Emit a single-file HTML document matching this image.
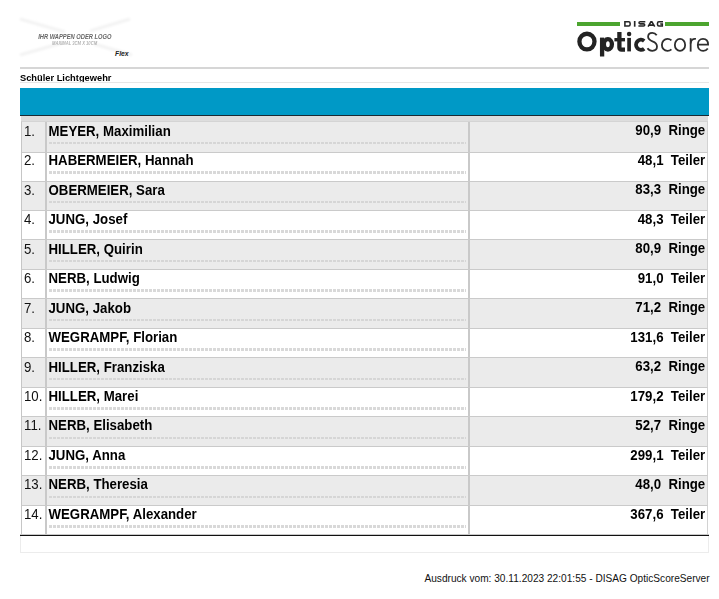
<!DOCTYPE html>
<html><head><meta charset="utf-8"><title>Schüler Lichtgewehr</title>
<style>
html,body{margin:0;padding:0;background:#fff;}
body{width:719px;height:599px;position:relative;overflow:hidden;font-family:"Liberation Sans",sans-serif;color:#000;}
.abs{position:absolute;}
.row{position:absolute;left:21px;width:686.6px;height:29.57px;box-sizing:border-box;border-top:1.8px solid #cacaca;border-left:1.5px solid #c6c6c6;border-right:1px solid #d2d2d2;}
.rk{position:absolute;left:2px;top:1.7px;font-size:13.25px;line-height:15px;color:#111;white-space:nowrap;transform:scaleY(1.04);transform-origin:0 80%;}
.nm{position:absolute;left:26.5px;top:1.7px;font-size:13.25px;line-height:15px;font-weight:bold;white-space:nowrap;transform:scaleY(1.04);transform-origin:0 80%;}
.sc{position:absolute;right:1.4px;top:1.4px;font-size:13.25px;line-height:15px;font-weight:bold;white-space:nowrap;transform:scaleY(1.04);transform-origin:100% 80%;}
.u{margin-left:7.3px}
.dots{position:absolute;left:26.5px;top:19.9px;width:417px;height:2.5px;background:repeating-linear-gradient(90deg,#d2d2d2 0 3px,transparent 3px 4px);opacity:.85}
.v1{position:absolute;left:22.7px;top:0;width:2px;height:100%;background:#c9c9c9;}
.v2{position:absolute;left:446px;top:0;width:2px;height:100%;background:#c9c9c9;}
</style></head><body>
<!-- left logo placeholder -->
<svg class="abs" style="left:10px;top:10px" width="140" height="56" viewBox="0 0 140 56">
<defs><filter id="bl" x="-5%" y="-20%" width="110%" height="140%"><feGaussianBlur stdDeviation="0.8"/></filter>
<filter id="b2"><feGaussianBlur stdDeviation="0.35"/></filter></defs>
<g filter="url(#bl)"><path d="M10 9 L55 22 M120 9 L80 21 M10 45 L52 33 M122 45 L84 34" stroke="#f3f3f3" stroke-width="3.2" fill="none"/></g>
<g filter="url(#b2)">
<text transform="translate(28.2 29.2) scale(0.78 1)" font-family="Liberation Sans" font-style="italic" font-weight="bold" font-size="7.4" fill="#666">IHR WAPPEN ODER LOGO</text>
<text transform="translate(42 34.6) scale(0.9 1)" font-family="Liberation Sans" font-style="italic" font-weight="bold" font-size="4.6" fill="#b4b4b4">MAXIMAL 3CM X 10CM</text>
</g>
<text x="105" y="46" font-family="Liberation Sans" font-style="italic" font-weight="bold" font-size="6.8" fill="#222">Flex</text>
</svg>
<!-- right logo -->
<div class="abs" style="left:577px;top:21.9px;width:43px;height:3.8px;background:#4ca52f"></div>
<div class="abs" style="left:665px;top:21.9px;width:43.9px;height:3.8px;background:#4ca52f"></div>
<svg class="abs" style="left:620px;top:18px" width="48" height="12" viewBox="0 0 48 12" fill="none" stroke="#262626" stroke-width="1.55" stroke-linejoin="miter">
<path d="M4.9 3.8 H8.7 Q10.1 3.8 10.1 5.2 V6.5 Q10.1 7.9 8.7 7.9 H4.9 Z"/>
<path d="M14.7 3.0 V8.7" stroke-width="1.65"/>
<path d="M25.3 3.8 H20.2 Q19.0 3.8 19.0 4.85 Q19.0 5.85 20.2 5.85 H23.5 Q24.7 5.85 24.7 6.9 Q24.7 7.9 23.5 7.9 H18.4"/>
<path d="M28.1 8.7 L30.9 3.8 H31.9 L34.7 8.7 M29.4 7.1 H33.4"/>
<path d="M43.0 3.8 H38.9 Q37.5 3.8 37.5 5.2 V6.5 Q37.5 7.9 38.9 7.9 H42.3 V6.0 H40.2"/>
</svg>
<svg class="abs" style="left:570px;top:26px" width="149" height="34" viewBox="0 0 149 34" fill="none">
<g stroke="#232323" stroke-width="4.3">
<ellipse cx="16.95" cy="15.6" rx="7.55" ry="7.85"/>
<path d="M32.1 11.6 V30.5"/>
<ellipse cx="37.9" cy="18.35" rx="4.0" ry="5.15"/>
<path d="M49.4 6.1 V21.6 Q49.4 23.6 51.6 23.6 H55"/>
<path d="M44.4 13.7 H55" stroke-width="3.4"/>
<path d="M59.1 11.9 V25.4" stroke-width="3.7"/>
<path d="M74.2 14.9 A5.0 5.0 0 1 0 74.2 22.7" stroke-width="3.9"/>
</g>
<circle cx="59.1" cy="8.0" r="2.25" fill="#232323"/>
<g stroke="#2e2e2e" stroke-width="1.8">
<path d="M86.7 9.3 C85.6 7.6 84.1 6.8 82.3 6.8 C79.9 6.8 78.1 8.4 78.1 10.8 C78.1 13.4 80.0 14.4 82.5 15.4 C85.3 16.5 87.0 17.8 87.0 20.6 C87.0 23.3 85.0 24.8 82.3 24.8 C80.1 24.8 78.5 23.9 77.5 22.2"/>
<path d="M101.41 14.44 A5.7 6.0 0 1 0 101.41 23.36"/>
<ellipse cx="110.0" cy="18.9" rx="5.15" ry="6.0"/>
<path d="M120.65 12.2 V25.6"/>
<path d="M120.65 17.4 C120.65 14.0 123.0 12.4 125.9 12.9"/>
<path d="M127.8 18.7 H138.1 C138.1 15.0 136.0 12.9 133.0 12.9 C129.9 12.9 127.8 15.5 127.8 18.9 C127.8 22.4 130.0 24.9 133.2 24.9 C135.3 24.9 136.8 24.0 137.8 22.6"/>
</g>
</svg>

<div class="abs" style="left:20px;top:66.9px;width:689px;height:1.7px;background:#d6d6d6"></div>
<div class="abs" style="left:20px;top:71.2px;width:689px;height:10.8px;overflow:hidden;font-size:9.3px;line-height:12px;font-weight:bold;white-space:nowrap;border-bottom:1px solid #e6e6e6"><span style="display:inline-block;position:relative;top:0.9px;transform:scaleY(1.07);transform-origin:0 78%">Schüler Lichtgewehr</span></div>
<div class="abs" style="left:20px;top:88px;width:689px;height:27px;background:#0099c6"></div>
<div class="abs" style="left:20px;top:114.5px;width:689px;height:1.5px;background:#1a2a33"></div>
<div class="abs" style="left:20.7px;top:116px;width:687.6px;height:5.2px;background:#dddddd"></div>
<div class="row" style="top:121.3px;height:30.3px;background:#ebebeb;border-top-color:#d4d4d4"><div class="rk" style="top:1.5px">1.</div><div class="nm" style="top:1.5px">MEYER, Maximilian</div><div class="dots" style="top:19.7px"></div><div class="sc" style="top:1.2px">90,9<span class="u">Ringe</span></div><div class="v1"></div><div class="v2"></div></div>
<div class="row" style="top:151.5px;height:29.14px;background:#ffffff"><div class="rk" style="top:0.77px">2.</div><div class="nm" style="top:0.77px">HABERMEIER, Hannah</div><div class="dots" style="top:18.97px"></div><div class="sc" style="top:0.47px">48,1<span class="u">Teiler</span></div><div class="v1"></div><div class="v2"></div></div>
<div class="row" style="top:180.54px;height:29.57px;background:#ebebeb"><div class="rk" style="top:1.2px">3.</div><div class="nm" style="top:1.2px">OBERMEIER, Sara</div><div class="dots" style="top:19.4px"></div><div class="sc" style="top:0.9px">83,3<span class="u">Ringe</span></div><div class="v1"></div><div class="v2"></div></div>
<div class="row" style="top:210.01px;height:29.57px;background:#ffffff"><div class="rk" style="top:1.2px">4.</div><div class="nm" style="top:1.2px">JUNG, Josef</div><div class="dots" style="top:19.4px"></div><div class="sc" style="top:0.9px">48,3<span class="u">Teiler</span></div><div class="v1"></div><div class="v2"></div></div>
<div class="row" style="top:239.48px;height:29.57px;background:#ebebeb"><div class="rk" style="top:1.2px">5.</div><div class="nm" style="top:1.2px">HILLER, Quirin</div><div class="dots" style="top:19.4px"></div><div class="sc" style="top:0.9px">80,9<span class="u">Ringe</span></div><div class="v1"></div><div class="v2"></div></div>
<div class="row" style="top:268.95px;height:29.57px;background:#ffffff"><div class="rk" style="top:1.2px">6.</div><div class="nm" style="top:1.2px">NERB, Ludwig</div><div class="dots" style="top:19.4px"></div><div class="sc" style="top:0.9px">91,0<span class="u">Teiler</span></div><div class="v1"></div><div class="v2"></div></div>
<div class="row" style="top:298.42px;height:29.57px;background:#ebebeb"><div class="rk" style="top:1.2px">7.</div><div class="nm" style="top:1.2px">JUNG, Jakob</div><div class="dots" style="top:19.4px"></div><div class="sc" style="top:0.9px">71,2<span class="u">Ringe</span></div><div class="v1"></div><div class="v2"></div></div>
<div class="row" style="top:327.89px;height:29.57px;background:#ffffff"><div class="rk" style="top:1.2px">8.</div><div class="nm" style="top:1.2px">WEGRAMPF, Florian</div><div class="dots" style="top:19.4px"></div><div class="sc" style="top:0.9px">131,6<span class="u">Teiler</span></div><div class="v1"></div><div class="v2"></div></div>
<div class="row" style="top:357.36px;height:29.57px;background:#ebebeb"><div class="rk" style="top:1.2px">9.</div><div class="nm" style="top:1.2px">HILLER, Franziska</div><div class="dots" style="top:19.4px"></div><div class="sc" style="top:0.9px">63,2<span class="u">Ringe</span></div><div class="v1"></div><div class="v2"></div></div>
<div class="row" style="top:386.83px;height:29.57px;background:#ffffff"><div class="rk" style="top:1.2px">10.</div><div class="nm" style="top:1.2px">HILLER, Marei</div><div class="dots" style="top:19.4px"></div><div class="sc" style="top:0.9px">179,2<span class="u">Teiler</span></div><div class="v1"></div><div class="v2"></div></div>
<div class="row" style="top:416.3px;height:29.57px;background:#ebebeb"><div class="rk" style="top:1.2px">11.</div><div class="nm" style="top:1.2px">NERB, Elisabeth</div><div class="dots" style="top:19.4px"></div><div class="sc" style="top:0.9px">52,7<span class="u">Ringe</span></div><div class="v1"></div><div class="v2"></div></div>
<div class="row" style="top:445.77px;height:29.57px;background:#ffffff"><div class="rk" style="top:1.2px">12.</div><div class="nm" style="top:1.2px">JUNG, Anna</div><div class="dots" style="top:19.4px"></div><div class="sc" style="top:0.9px">299,1<span class="u">Teiler</span></div><div class="v1"></div><div class="v2"></div></div>
<div class="row" style="top:475.24px;height:29.57px;background:#ebebeb"><div class="rk" style="top:1.2px">13.</div><div class="nm" style="top:1.2px">NERB, Theresia</div><div class="dots" style="top:19.4px"></div><div class="sc" style="top:0.9px">48,0<span class="u">Ringe</span></div><div class="v1"></div><div class="v2"></div></div>
<div class="row" style="top:504.71px;height:29.07px;background:#ffffff"><div class="rk" style="top:1.2px">14.</div><div class="nm" style="top:1.2px">WEGRAMPF, Alexander</div><div class="dots" style="top:19.4px"></div><div class="sc" style="top:0.9px">367,6<span class="u">Teiler</span></div><div class="v1"></div><div class="v2"></div></div>
<div class="abs" style="left:20px;top:533.68px;width:689px;height:1px;background:#c9c9c9"></div>
<div class="abs" style="left:20px;top:534.68px;width:689px;height:1.6px;background:#111"></div>
<div class="abs" style="left:20.4px;top:535.88px;width:688.4px;height:16.8px;box-sizing:border-box;border:1px solid #ececec;border-top:none"></div>
<div class="abs" style="right:9.4px;top:571.6px;font-size:10.15px;line-height:13px;white-space:nowrap;color:#111">Ausdruck vom: 30.11.2023 22:01:55 - DISAG OpticScoreServer</div>
</body></html>
